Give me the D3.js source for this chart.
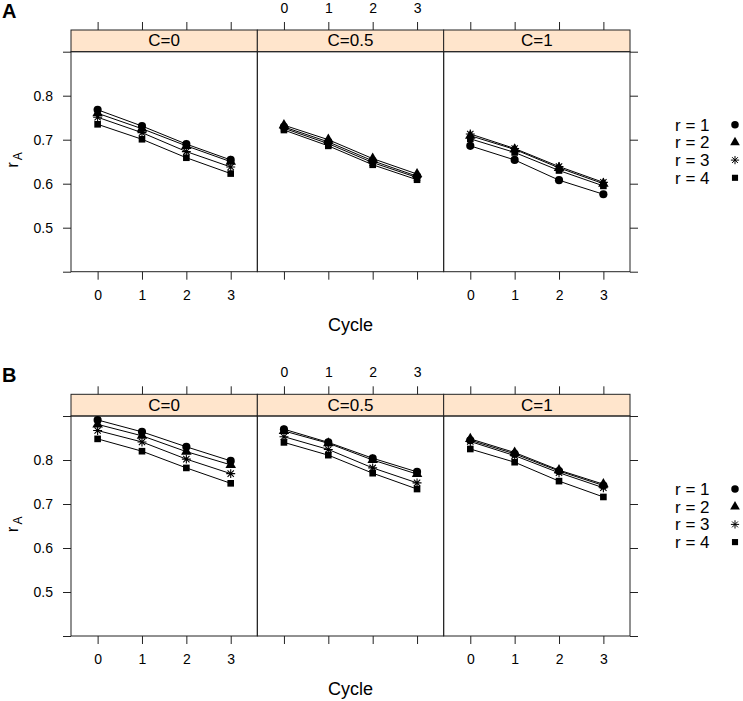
<!DOCTYPE html>
<html>
<head>
<meta charset="utf-8">
<script src="https://cdn.jsdelivr.net/npm/d3@7"></script>
<style>
  html, body { margin: 0; padding: 0; background: #fff; }
  svg { display: block; font-family: "Liberation Sans", Arial, sans-serif; }
</style>
</head>
<body>
<svg id="chart" width="743" height="701"></svg>
<script>
// ---------- data ----------
const cycles = [0, 1, 2, 3];
const panelLabels = ["C=0", "C=0.5", "C=1"];
const seriesLabels = ["r = 1", "r = 2", "r = 3", "r = 4"];
const figureLabels = ["A", "B"];
const yTicks = [0.4, 0.5, 0.6, 0.7, 0.8, 0.9];
const yTickLabels = ["", "0.5", "0.6", "0.7", "0.8", ""];
const xTickLabels = ["0", "1", "2", "3"];

// Figure A : rows = r1..r4, columns = cycle 0..3
const aC0  = [[0.768, 0.731, 0.690, 0.654],
              [0.760, 0.725, 0.686, 0.650],
              [0.751, 0.716, 0.673, 0.638],
              [0.735, 0.701, 0.659, 0.623]];
const aC05 = [[0.729, 0.695, 0.652, 0.617],
              [0.733, 0.700, 0.657, 0.622],
              [0.726, 0.691, 0.648, 0.614],
              [0.722, 0.686, 0.643, 0.609]];
const aC1  = [[0.686, 0.654, 0.608, 0.576],
              [0.709, 0.678, 0.636, 0.600],
              [0.713, 0.680, 0.639, 0.603],
              [0.702, 0.671, 0.630, 0.595]];
// Figure B
const bC0  = [[0.891, 0.864, 0.830, 0.798],
              [0.881, 0.855, 0.819, 0.789],
              [0.867, 0.841, 0.802, 0.769],
              [0.848, 0.820, 0.782, 0.747]];
const bC05 = [[0.870, 0.840, 0.804, 0.773],
              [0.866, 0.838, 0.800, 0.768],
              [0.853, 0.824, 0.782, 0.748],
              [0.840, 0.811, 0.770, 0.734]];
const bC1  = [[0.845, 0.814, 0.775, 0.742],
              [0.848, 0.817, 0.777, 0.745],
              [0.842, 0.810, 0.771, 0.737],
              [0.825, 0.795, 0.752, 0.716]];

const figures = [[aC0, aC05, aC1], [bC0, bC05, bC1]];

// ---------- symbols ----------
const asterisk = {
  draw(ctx, size) {
    const r = Math.sqrt(size) / 2;
    const d = r * Math.SQRT1_2;
    ctx.moveTo(-r, 0); ctx.lineTo(r, 0);
    ctx.moveTo(0, -r); ctx.lineTo(0, r);
    ctx.moveTo(-d, -d); ctx.lineTo(d, d);
    ctx.moveTo(-d, d); ctx.lineTo(d, -d);
  }
};
const symbolDefs = [
  { type: d3.symbolCircle, size: 52, fill: true },
  { type: d3.symbolTriangle, size: 48, fill: true },
  { type: asterisk, size: 80, fill: false },
  { type: d3.symbolSquare, size: 44, fill: true }
];

// ---------- layout ----------
const svg = d3.select("#chart");
const left = 71, right = 630;
const panelW = (right - left) / 3;
const figOffset = 364.3;

figures.forEach((panels, f) => {
  const dy = f * figOffset;
  const stripTop = 30 + dy, stripBottom = 51.7 + dy, plotBottom = 271.7 + dy;
  const y = d3.scaleLinear().domain([0.4, 0.9]).range([plotBottom, stripBottom]);

  // figure letter
  svg.append("text").attr("x", 2).attr("y", 18 + dy)
    .attr("font-size", 20).attr("font-weight", "bold").text(figureLabels[f]);

  panels.forEach((series, p) => {
    const x0 = left + p * panelW;
    const x = d3.scaleLinear().domain([-0.6, 3.6]).range([x0, x0 + panelW]);

    // strip
    svg.append("rect").attr("x", x0).attr("y", stripTop)
      .attr("width", panelW).attr("height", stripBottom - stripTop)
      .attr("fill", "#FFE5CC").attr("stroke", "#222").attr("stroke-width", 1);
    svg.append("text").attr("x", x0 + panelW / 2).attr("y", (stripTop + stripBottom) / 2)
      .attr("text-anchor", "middle").attr("dominant-baseline", "central")
      .attr("font-size", 17).text(panelLabels[p]);

    // panel box
    svg.append("rect").attr("x", x0).attr("y", stripBottom)
      .attr("width", panelW).attr("height", plotBottom - stripBottom)
      .attr("fill", "none").attr("stroke", "#222").attr("stroke-width", 1);

    // bottom axis
    const bottom = d3.axisBottom(x).tickValues(cycles).tickSize(8).tickPadding(10)
      .tickFormat((d, i) => (p !== 1 ? xTickLabels[i] : ""));
    const gb = svg.append("g").attr("transform", `translate(0,${plotBottom})`).call(bottom);
    // top axis (above strip)
    const top = d3.axisTop(x).tickValues(cycles).tickSize(8).tickPadding(9)
      .tickFormat((d, i) => (p === 1 ? xTickLabels[i] : ""));
    const gt = svg.append("g").attr("transform", `translate(0,${stripTop})`).call(top);
    [gb, gt].forEach(g => {
      g.select(".domain").remove();
      g.selectAll("line").attr("stroke", "#222");
      g.selectAll("text").attr("font-size", 14).attr("fill", "#000")
        .attr("font-family", "'Liberation Sans', Arial, sans-serif");
    });

    if (p === 0) {
      const la = d3.axisLeft(y).tickValues(yTicks).tickSize(8).tickPadding(10)
        .tickFormat((d, i) => yTickLabels[i]);
      const gl = svg.append("g").attr("transform", `translate(${x0},0)`).call(la);
      gl.select(".domain").remove();
      gl.selectAll("line").attr("stroke", "#222");
      gl.selectAll("text").attr("font-size", 14).attr("fill", "#000")
        .attr("font-family", "'Liberation Sans', Arial, sans-serif");
    }
    if (p === 2) {
      const ra = d3.axisRight(y).tickValues(yTicks).tickSize(8).tickFormat("");
      const gr = svg.append("g").attr("transform", `translate(${x0 + panelW},0)`).call(ra);
      gr.select(".domain").remove();
      gr.selectAll("line").attr("stroke", "#222");
    }

    // lines and points
    const line = d3.line().x((d, i) => x(cycles[i])).y(d => y(d));
    series.forEach((vals, s) => {
      svg.append("path").datum(vals).attr("d", line)
        .attr("fill", "none").attr("stroke", "#000").attr("stroke-width", 1);
      const def = symbolDefs[s];
      const sym = d3.symbol().type(def.type).size(def.size);
      svg.append("g").selectAll("path").data(vals).join("path")
        .attr("transform", (d, i) => `translate(${x(cycles[i])},${y(d)})`)
        .attr("d", sym)
        .attr("fill", def.fill ? "#000" : "none")
        .attr("stroke", def.fill ? "none" : "#000")
        .attr("stroke-width", 1.1);
    });
  });

  // x label
  svg.append("text").attr("x", (left + right) / 2).attr("y", 330.5 + dy)
    .attr("text-anchor", "middle").attr("font-size", 18).text("Cycle");

  // y label r_A
  const yl = svg.append("text")
    .attr("transform", `translate(18,${160 + dy}) rotate(-90)`)
    .attr("text-anchor", "middle").attr("font-size", 17);
  yl.append("tspan").text("r");
  yl.append("tspan").attr("font-size", 12).attr("dx", 2).attr("dy", 4).text("A");

  // legend
  seriesLabels.forEach((lab, s) => {
    const base = 130.7 + s * 17.7 + dy;
    svg.append("text").attr("x", 675).attr("y", base)
      .attr("font-size", 17).text(lab);
    const def = symbolDefs[s];
    svg.append("path")
      .attr("transform", `translate(735,${base - 6})`)
      .attr("d", d3.symbol().type(def.type).size(def.size * 0.85)())
      .attr("fill", def.fill ? "#000" : "none")
      .attr("stroke", def.fill ? "none" : "#000")
      .attr("stroke-width", 1);
  });
});
</script>
</body>
</html>
